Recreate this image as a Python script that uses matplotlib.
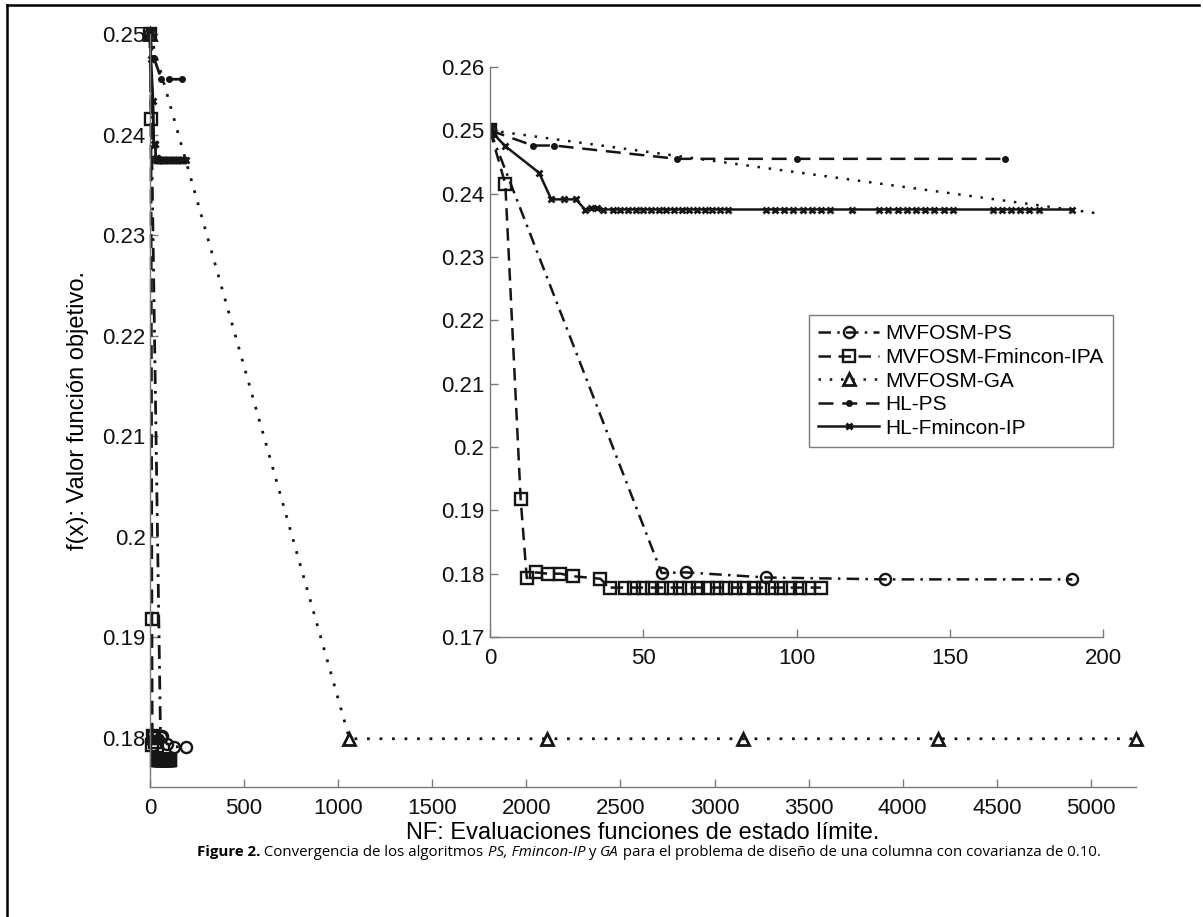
import matplotlib
matplotlib.use('Agg')
import matplotlib.pyplot as plt
from matplotlib.lines import Line2D

# MVFOSM-PS
ps_x = [0, 56, 64, 90, 129, 190]
ps_y = [0.25, 0.1801, 0.1802, 0.1794, 0.1791, 0.1791]

# MVFOSM-Fmincon-IPA
ipa_x = [0, 5, 10, 12, 15, 19, 23, 27, 36, 39, 44, 47, 50, 53, 56, 59, 62, 65, 68, 71, 74,
         77, 80, 83, 86, 89, 92, 95, 98, 101, 104, 108]
ipa_y = [0.25, 0.2415, 0.1918, 0.1793, 0.1802, 0.1800, 0.1800, 0.1796, 0.1792, 0.1778, 0.1778,
         0.1778, 0.1778, 0.1778, 0.1778, 0.1778, 0.1778, 0.1778, 0.1778, 0.1778, 0.1778,
         0.1778, 0.1778, 0.1778, 0.1778, 0.1778, 0.1778, 0.1778, 0.1778, 0.1778, 0.1778, 0.1778]

# MVFOSM-GA
ga_x = [0, 1060, 2110, 3150, 4190, 5240]
ga_y = [0.25, 0.1799, 0.1799, 0.1799, 0.1799, 0.1799]

# HL-PS
hlps_x = [0, 14, 21, 61, 100, 168]
hlps_y = [0.25, 0.2476, 0.2476, 0.2455, 0.2455, 0.2455]

# HL-Fmincon-IP
hlip_x = [0, 5, 16, 20, 24, 28, 31, 33, 35, 37, 40, 42.5, 45, 47.5, 50, 52.5, 55, 57.5, 60,
          62.5, 65, 67.5, 70, 72.5, 75, 77.5, 90, 93, 96, 99, 102, 105, 108, 111, 118, 127, 130,
          133, 136, 139, 142, 145, 148, 151, 164, 167, 170, 173, 176, 179, 190]
hlip_y = [0.25, 0.2475, 0.2433, 0.2391, 0.2391, 0.2391, 0.2375, 0.2377, 0.2377, 0.2375] + \
         [0.2375] * 41

labels = ['MVFOSM-PS', 'MVFOSM-Fmincon-IPA', 'MVFOSM-GA', 'HL-PS', 'HL-Fmincon-IP']
main_xticks = list(range(0, 5001, 500))
main_yticks = [0.18, 0.19, 0.20, 0.21, 0.22, 0.23, 0.24, 0.25]
inset_xticks = [0, 50, 100, 150, 200]
inset_yticks = [0.17, 0.18, 0.19, 0.20, 0.21, 0.22, 0.23, 0.24, 0.25, 0.26]

W, H = 1203, 917
plt.rcParams['font.family'] = ['Liberation Sans', 'DejaVu Sans']
fig = plt.figure(figsize=(W / 100, H / 100), dpi=100)

ink = '#151515'
axis_grey = '#7a7a7a'


def px_box(x0, y0, x1, y1):
    return [x0 / W, 1 - y1 / H, (x1 - x0) / W, (y1 - y0) / H]


def draw_series(ax, lw, clip):
    kw = dict(color=ink, lw=lw, clip_on=clip)
    ax.plot(ps_x, ps_y, ls=(0, (5, 2.5, 1, 2.5)), marker='o', ms=8, mfc='none', mew=1.7, **kw)
    ax.plot(ipa_x, ipa_y, ls=(0, (5, 3)), marker='s', ms=8.5, mfc='none', mew=1.7, **kw)
    ax.plot(ga_x, ga_y, ls=(0, (1, 3.5)), marker='^', ms=9, mfc='none', mew=2, **kw)
    ax.plot(hlps_x, hlps_y, ls=(0, (6, 3.5)), marker='o', ms=4, mfc=ink, **kw)
    ax.plot(hlip_x, hlip_y, ls='-', marker='x', ms=5, mew=2, **kw)


def style_axes(ax, fs):
    for s in ['top', 'right']:
        ax.spines[s].set_visible(False)
    for s in ['left', 'bottom']:
        ax.spines[s].set_color(axis_grey)
        ax.spines[s].set_linewidth(1.0)
    ax.tick_params(direction='in', length=6, width=1, color=axis_grey,
                   labelsize=fs, labelcolor='#111111')
    ax.patch.set_alpha(0)


def fmt(v):
    return '%g' % round(v, 2)


# main axes
ax = fig.add_axes(px_box(150, 34, 1136, 787))
draw_series(ax, 2.0, False)
ax.set_xlim(0, 5240)
ax.set_ylim(0.1751, 0.25)
ax.set_xticks(main_xticks)
ax.set_yticks(main_yticks)
ax.set_yticklabels([fmt(v) for v in main_yticks])
style_axes(ax, 16)
ax.tick_params(axis='y', pad=3)
ax.tick_params(axis='x', pad=8)
ax.set_xlabel('NF: Evaluaciones funciones de estado límite.', fontsize=17, labelpad=2)
ax.set_ylabel('f(x): Valor función objetivo.', fontsize=17, labelpad=10)

# inset axes
ins = fig.add_axes(px_box(490, 67, 1103, 637))
draw_series(ins, 1.8, True)
ins.set_xlim(0, 200)
ins.set_ylim(0.17, 0.26)
ins.set_xticks(inset_xticks)
ins.set_yticks(inset_yticks)
ins.set_yticklabels([fmt(v) for v in inset_yticks])
style_axes(ins, 16)
ins.tick_params(axis='x', pad=8)
ins.tick_params(axis='y', pad=4)

leg = ins.legend(ins.lines, labels, loc='upper left', bbox_to_anchor=(809 / W, 1 - 315 / H),
                 bbox_transform=fig.transFigure, fontsize=15, handlelength=2.9,
                 fancybox=False, framealpha=1, edgecolor=axis_grey, borderpad=0.45,
                 labelspacing=0.22, handletextpad=0.3, borderaxespad=0)
leg.get_frame().set_linewidth(1.0)

# outer frame of the figure panel (top and left edges)
fig.add_artist(Line2D([7 / W, 1199 / W], [1 - 5 / H, 1 - 5 / H], transform=fig.transFigure,
                      color='black', lw=1.8))
fig.add_artist(Line2D([7 / W, 7 / W], [0, 1 - 5 / H], transform=fig.transFigure,
                      color='black', lw=1.8))

# caption, assembled piece by piece
pieces = [('Figure 2.', 'bold', 'normal'),
          (' Convergencia de los algoritmos ', 'normal', 'normal'),
          ('PS, Fmincon-IP', 'normal', 'italic'),
          (' y ', 'normal', 'normal'),
          ('GA', 'normal', 'italic'),
          (' para el problema de diseño de una columna con covarianza de 0.10.', 'normal', 'normal')]
fig.canvas.draw()
renderer = fig.canvas.get_renderer()
xpos = 197 / W
ypos = 1 - 852 / H
for txt, wt, st in pieces:
    t = fig.text(xpos, ypos, txt, fontsize=10.8, fontweight=wt, fontstyle=st,
                 family=['Open Sans', 'DejaVu Sans'], va='center', ha='left')
    bb = t.get_window_extent(renderer)
    xpos += bb.width / W

fig.savefig('out.png', dpi=100)
